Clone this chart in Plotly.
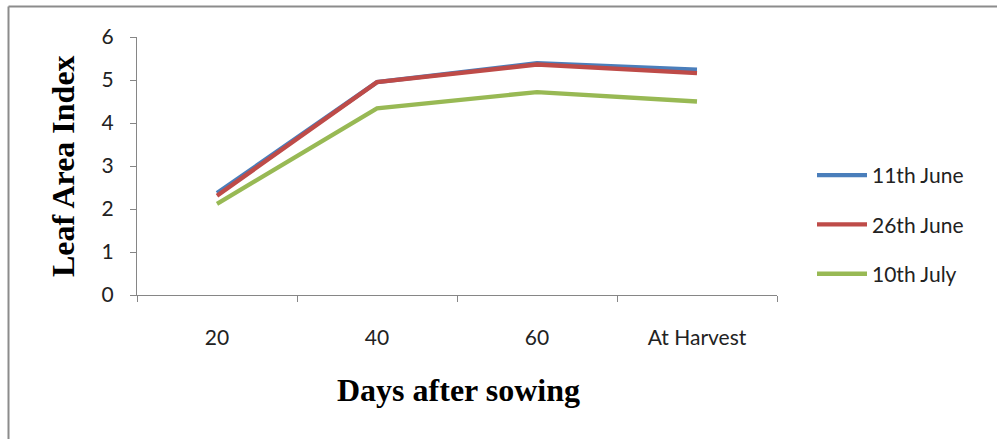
import plotly.graph_objects as go

categories = ["20", "40", "60", "At Harvest"]
series_names = ["11th June", "26th June", "10th July"]
june11 = [2.37, 4.95, 5.39, 5.24]
june26 = [2.31, 4.95, 5.36, 5.16]
july10 = [2.12, 4.34, 4.72, 4.50]
colors = ["#4A7EBB", "#BE4B48", "#98B954"]
y_ticks = [0, 1, 2, 3, 4, 5, 6]

W, H = 997, 439
L, R, T, B = 137, 220, 37, 144
pw, ph = W - L - R, H - T - B

def px(x):
    return (x - L) / pw

def py(y):
    return (H - B - y) / ph

fig = go.Figure()
for name, vals, c, g in zip(series_names, [june11, june26, july10], colors, ["a", "b", "c"]):
    fig.add_trace(go.Scatter(x=categories, y=vals, mode="lines", name=name,
                             line=dict(color=c, width=4.3), legendgroup=g))

tickfont = dict(family="Lato, Open Sans, sans-serif", size=21, color="#222222")
fig.update_layout(
    width=W, height=H,
    margin=dict(l=L, r=R, t=T, b=B, pad=0),
    paper_bgcolor="white", plot_bgcolor="white",
    showlegend=True,
    legend=dict(x=px(812), y=py(155), xanchor="left", yanchor="top",
                font=tickfont, tracegroupgap=19, itemwidth=50, bgcolor="rgba(0,0,0,0)"),
    xaxis=dict(type="category", range=[-0.5, 3.5], showgrid=False, showline=True,
               linecolor="#868686", linewidth=1.2, ticks="outside", ticklen=6,
               tickcolor="#868686", tickson="boundaries", tickfont=tickfont,
               ticklabelstandoff=24, zeroline=False),
    yaxis=dict(range=[0, 6], tickvals=y_ticks, showgrid=False, showline=True,
               linecolor="#868686", linewidth=1.2, ticks="outside", ticklen=6,
               tickcolor="#868686", tickfont=tickfont, ticklabelstandoff=12,
               zeroline=False),
    shapes=[
        dict(type="line", xref="paper", yref="paper", x0=px(8.5), x1=px(997), y0=py(6.5), y1=py(6.5),
             line=dict(color="#8C8C8C", width=2)),
        dict(type="line", xref="paper", yref="paper", x0=px(8.5), x1=px(8.5), y0=py(6.5), y1=py(439),
             line=dict(color="#8C8C8C", width=2)),
    ],
    annotations=[
        dict(text="<b>Days after sowing</b>", xref="paper", yref="paper", x=px(458), y=py(390),
             xanchor="center", yanchor="middle", showarrow=False,
             font=dict(family="Liberation Serif, Times New Roman, serif", size=32, color="black")),
        dict(text="<b>Leaf Area Index</b>", xref="paper", yref="paper", x=px(63), y=py(166),
             xanchor="center", yanchor="middle", showarrow=False, textangle=-90,
             font=dict(family="Liberation Serif, Times New Roman, serif", size=32, color="black")),
    ],
)
fig.write_html("out.html")
